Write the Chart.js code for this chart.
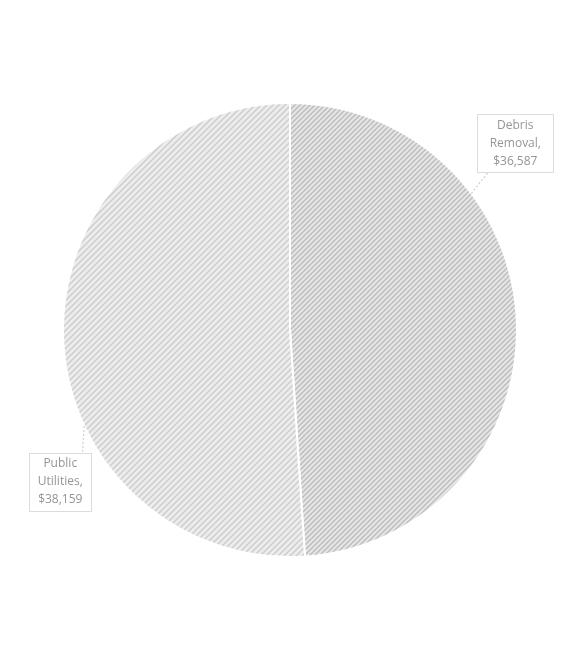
<!DOCTYPE html>
<html>
<head>
<meta charset="utf-8"/>
<script src="https://cdn.jsdelivr.net/npm/chart.js@4.4.1/dist/chart.umd.min.js"></script>
<style>
  html, body { margin: 0; padding: 0; background: #fff; }
  #wrap { width: 569px; height: 652px; }
</style>
</head>
<body>
<div id="wrap"><canvas id="chart" width="569" height="652"></canvas></div>
<script>
// data
var categories = ["Debris Removal", "Public Utilities"];
var costs = [36587, 38159];
var labelLines = [["Debris", "Removal,", "$36,587"], ["Public", "Utilities,", "$38,159"]];

// diagonal "/" hatch tile
function hatch(bg, fg, size, lw) {
  var c = document.createElement('canvas');
  c.width = size; c.height = size;
  var g = c.getContext('2d');
  g.fillStyle = bg;
  g.fillRect(0, 0, size, size);
  g.strokeStyle = fg;
  g.lineWidth = lw;
  g.beginPath();
  g.moveTo(0, size); g.lineTo(size, 0);
  g.moveTo(-1, 1); g.lineTo(1, -1);
  g.moveTo(size - 1, size + 1); g.lineTo(size + 1, size - 1);
  g.stroke();
  return g.createPattern(c, 'repeat');
}

// where each callout sits: anchor angle on the rim (deg, canvas), box offset from anchor, box size
var callouts = [
  { angle: -37, dx: 44, dy: -50, w: 76, h: 58, ex: 20, ey: -20 },
  { angle: 155, dx: -24, dy: 56, w: 62, h: 58, ex: -22, ey: 27 }
];

var calloutPlugin = {
  id: 'callouts',
  afterDatasetsDraw: function(chart) {
    var ctx = chart.ctx;
    var arcs = chart.getDatasetMeta(0).data;
    ctx.save();
    ctx.font = '12px "Open Sans"';
    ctx.textAlign = 'center';
    ctx.textBaseline = 'middle';
    for (var i = 0; i < arcs.length; i++) {
      var a = arcs[i], c = callouts[i];
      var rad = c.angle * Math.PI / 180;
      var ax = a.x + a.outerRadius * Math.cos(rad);
      var ay = a.y + a.outerRadius * Math.sin(rad);
      var bx = ax + c.dx, by = ay + c.dy;
      // leader
      ctx.strokeStyle = '#cfcfcf';
      ctx.lineWidth = 1.2;
      ctx.setLineDash([2, 2]);
      ctx.beginPath();
      ctx.moveTo(ax, ay);
      ctx.lineTo(bx - c.ex, by - c.ey);
      ctx.stroke();
      ctx.setLineDash([]);
      // box
      ctx.fillStyle = '#fff';
      ctx.fillRect(bx - c.w / 2, by - c.h / 2, c.w, c.h);
      ctx.strokeStyle = '#dcdcdc';
      ctx.lineWidth = 1;
      ctx.strokeRect(Math.round(bx - c.w / 2) + 0.5, Math.round(by - c.h / 2) + 0.5, c.w, c.h);
      // text
      ctx.fillStyle = '#959595';
      var lines = labelLines[i];
      for (var j = 0; j < lines.length; j++) {
        ctx.fillText(lines[j], bx, by + (j - 1) * 18);
      }
    }
    ctx.restore();
  }
};

var ctx = document.getElementById('chart').getContext('2d');
window.pie = new Chart(ctx, {
  type: 'pie',
  data: {
    labels: categories,
    datasets: [{
      data: costs,
      backgroundColor: [hatch('#e6e6e6', '#bdbdbd', 5, 1.5), hatch('#ededed', '#cdcdcd', 6, 1.5)],
      borderColor: '#ffffff',
      borderWidth: 2
    }]
  },
  options: {
    responsive: false,
    animation: false,
    layout: { padding: { left: 62, right: 51, top: 102, bottom: 94 } },
    plugins: {
      legend: { display: false },
      tooltip: { enabled: false }
    }
  },
  plugins: [calloutPlugin]
});
</script>
</body>
</html>
